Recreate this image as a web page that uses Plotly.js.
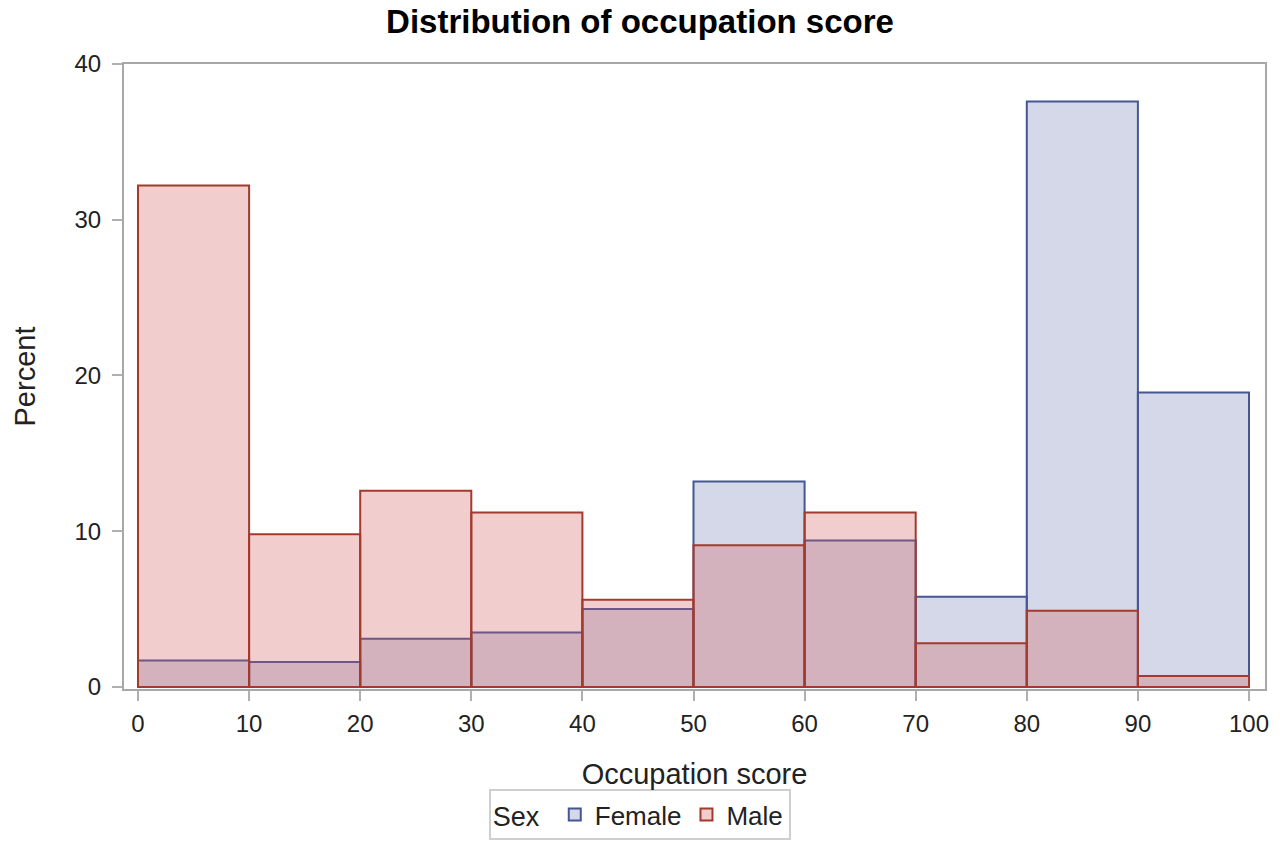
<!DOCTYPE html>
<html>
<head>
<meta charset="utf-8">
<script src="https://cdn.plot.ly/plotly-3.0.1.min.js"></script>
<style>html,body{margin:0;padding:0;background:#fff;}#chart{width:1280px;height:859px;}</style>
</head>
<body>
<div id="chart"></div>
<script>
// Bin left edges (Occupation score), bin width 10
const binLeft = [0, 10, 20, 30, 40, 50, 60, 70, 80, 90];
const femalePct = [1.7, 1.6, 3.1, 3.5, 5.0, 13.2, 9.4, 5.8, 37.6, 18.9];
const malePct   = [32.2, 9.8, 12.6, 11.2, 5.6, 9.1, 11.2, 2.8, 4.9, 0.7];
const xTicks = [0, 10, 20, 30, 40, 50, 60, 70, 80, 90, 100];
const yTicks = [0, 10, 20, 30, 40];

const font = "Liberation Sans, Arial, sans-serif";

const traces = [
  {
    type: 'bar', name: 'Female', x: binLeft, y: femalePct,
    width: 10, offset: 0,
    marker: { color: 'rgba(111,126,179,0.3)', line: { color: '#445694', width: 2 } },
    hoverinfo: 'x+y'
  },
  {
    type: 'bar', name: 'Male', x: binLeft, y: malePct,
    width: 10, offset: 0,
    marker: { color: 'rgba(208,91,91,0.3)', line: { color: '#A23A2E', width: 2 } },
    hoverinfo: 'x+y'
  }
];

const layout = {
  width: 1280, height: 859,
  margin: { l: 124, r: 15, t: 64, b: 170 },
  paper_bgcolor: '#fff', plot_bgcolor: '#fff',
  barmode: 'overlay',
  font: { family: font, size: 24, color: '#222' },
  title: {
    text: '<b>Distribution of occupation score</b>',
    font: { family: font, size: 33, color: '#000' },
    x: 0.5, xref: 'container', xanchor: 'center',
    y: 0.975, yref: 'container', yanchor: 'middle'
  },
  xaxis: {
    range: [-1.26, 101.44],
    tickmode: 'array', tickvals: xTicks, ticktext: xTicks.map(String),
    ticks: 'outside', ticklen: 10, tickwidth: 2, tickcolor: '#b0b0b0',
    ticklabelstandoff: 2,
    showline: true, linecolor: '#a8a8a8', linewidth: 2, mirror: true,
    showgrid: false, zeroline: false, automargin: false,
    tickfont: { family: font, size: 24, color: '#222' },
    title: { text: 'Occupation score', font: { family: font, size: 29, color: '#222' }, standoff: 28 }
  },
  yaxis: {
    range: [-0.13, 40],
    tickmode: 'array', tickvals: yTicks, ticktext: yTicks.map(String),
    ticks: 'outside', ticklen: 10, tickwidth: 2, tickcolor: '#b0b0b0',
    ticklabelstandoff: 6,
    showline: true, linecolor: '#a8a8a8', linewidth: 2, mirror: true,
    showgrid: false, zeroline: false, automargin: false,
    tickfont: { family: font, size: 24, color: '#222' },
    title: { text: 'Percent', font: { family: font, size: 29, color: '#222' }, standoff: 30 }
  },
  showlegend: true,
  legend: {
    orientation: 'h',
    x: 0.452, xanchor: 'center',
    y: -0.16, yanchor: 'top',
    bordercolor: '#cfcfcf', borderwidth: 2,
    bgcolor: '#fff',
    font: { family: font, size: 26, color: '#222' },
    title: { text: 'Sex ', side: 'left', font: { family: font, size: 27, color: '#222' } },
    traceorder: 'normal',
    itemwidth: 30
  }
};

Plotly.newPlot('chart', traces, layout, { displayModeBar: false, responsive: false });
</script>
</body>
</html>
